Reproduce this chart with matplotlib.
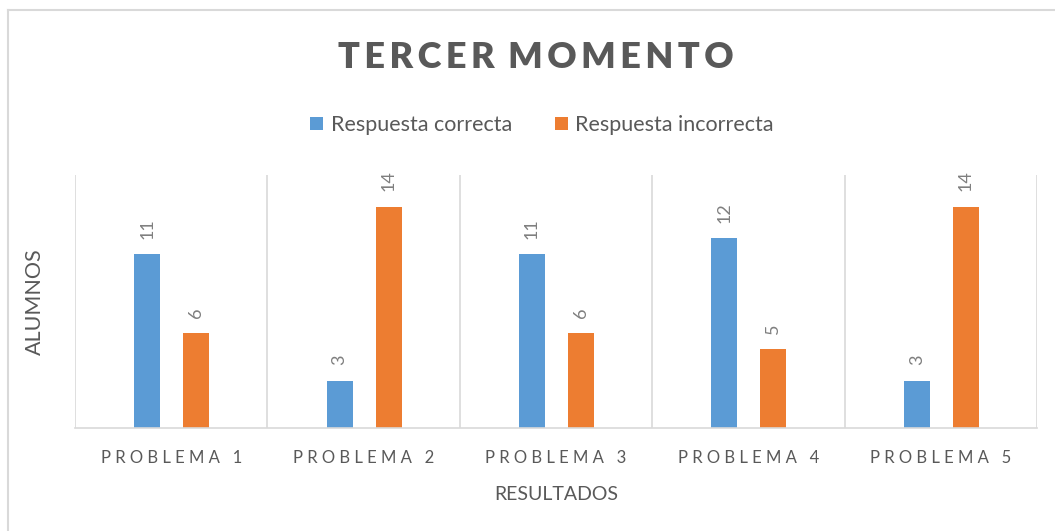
import matplotlib.pyplot as plt
import numpy as np
from matplotlib.lines import Line2D

# Datos
problemas = ['PROBLEMA 1', 'PROBLEMA 2', 'PROBLEMA 3', 'PROBLEMA 4', 'PROBLEMA 5']
correcta = [11, 3, 11, 12, 3]
incorrecta = [6, 14, 6, 5, 14]

azul = '#5B9BD5'
naranja = '#ED7D31'
gris = '#595959'
linea = '#D9D9D9'

plt.rcParams['font.family'] = ['Lato', 'DejaVu Sans']

fig = plt.figure(figsize=(10.55, 5.31), dpi=100)
ax = fig.add_axes([75 / 1055, 1 - 428 / 531, 962 / 1055, 253 / 531])

x = np.arange(len(problemas))
w = 0.135
b1 = ax.bar(x - 0.125, correcta, w, color=azul, label='Respuesta correcta')
b2 = ax.bar(x + 0.13, incorrecta, w, color=naranja, label='Respuesta incorrecta')

# Etiquetas de datos giradas
for bars in (b1, b2):
    for r in bars:
        ax.annotate(str(int(r.get_height())),
                    (r.get_x() + r.get_width() / 2, r.get_height()),
                    xytext=(0, 11), textcoords='offset points',
                    rotation=90, ha='center', va='bottom',
                    fontsize=13, color='#7F7F7F')

ax.set_xlim(-0.5, len(problemas) - 0.5)
ax.set_ylim(0, 16)
ax.set_yticks([])

# Etiquetas con espaciado entre letras
ax.set_xticks(x)
ax.set_xticklabels([' '.join(p) for p in problemas], fontsize=12, color=gris)
ax.tick_params(axis='x', length=0, pad=16)
ax.set_xticks(np.arange(-0.5, len(problemas)), minor=True)
ax.tick_params(axis='x', which='minor', length=0)
ax.grid(axis='x', which='minor', color=linea, linewidth=1.2)
ax.set_axisbelow(True)

for s in ['top', 'left', 'right']:
    ax.spines[s].set_visible(False)
ax.spines['bottom'].set_color(linea)
ax.spines['bottom'].set_linewidth(1.2)

ax.set_xlabel('RESULTADOS', fontsize=14, color=gris, labelpad=14)
ax.set_ylabel('ALUMNOS', fontsize=15.5, color=gris, labelpad=22)

fig.text(536 / 1055, 1 - 58 / 531, 'T E R C E R   M O M E N T O'.replace(' ', '\u2009'),
         ha='center', va='center', fontsize=26, fontweight='heavy', color=gris)

ax.legend(loc='center', bbox_to_anchor=(542 / 1055, 1 - 125 / 531),
          bbox_transform=fig.transFigure, ncol=2, frameon=False,
          fontsize=15.5, labelcolor=gris, handlelength=0.6, handleheight=0.6,
          handletextpad=0.35, columnspacing=2.0)

# Borde del area del grafico
fig.add_artist(Line2D([8 / 1055, 8 / 1055], [0, 1 - 10 / 531], color=linea, linewidth=1.5,
                      transform=fig.transFigure))
fig.add_artist(Line2D([8 / 1055, 1], [1 - 10 / 531, 1 - 10 / 531], color=linea, linewidth=1.5,
                      transform=fig.transFigure))

fig.savefig('out.png', dpi=100, facecolor='white')
